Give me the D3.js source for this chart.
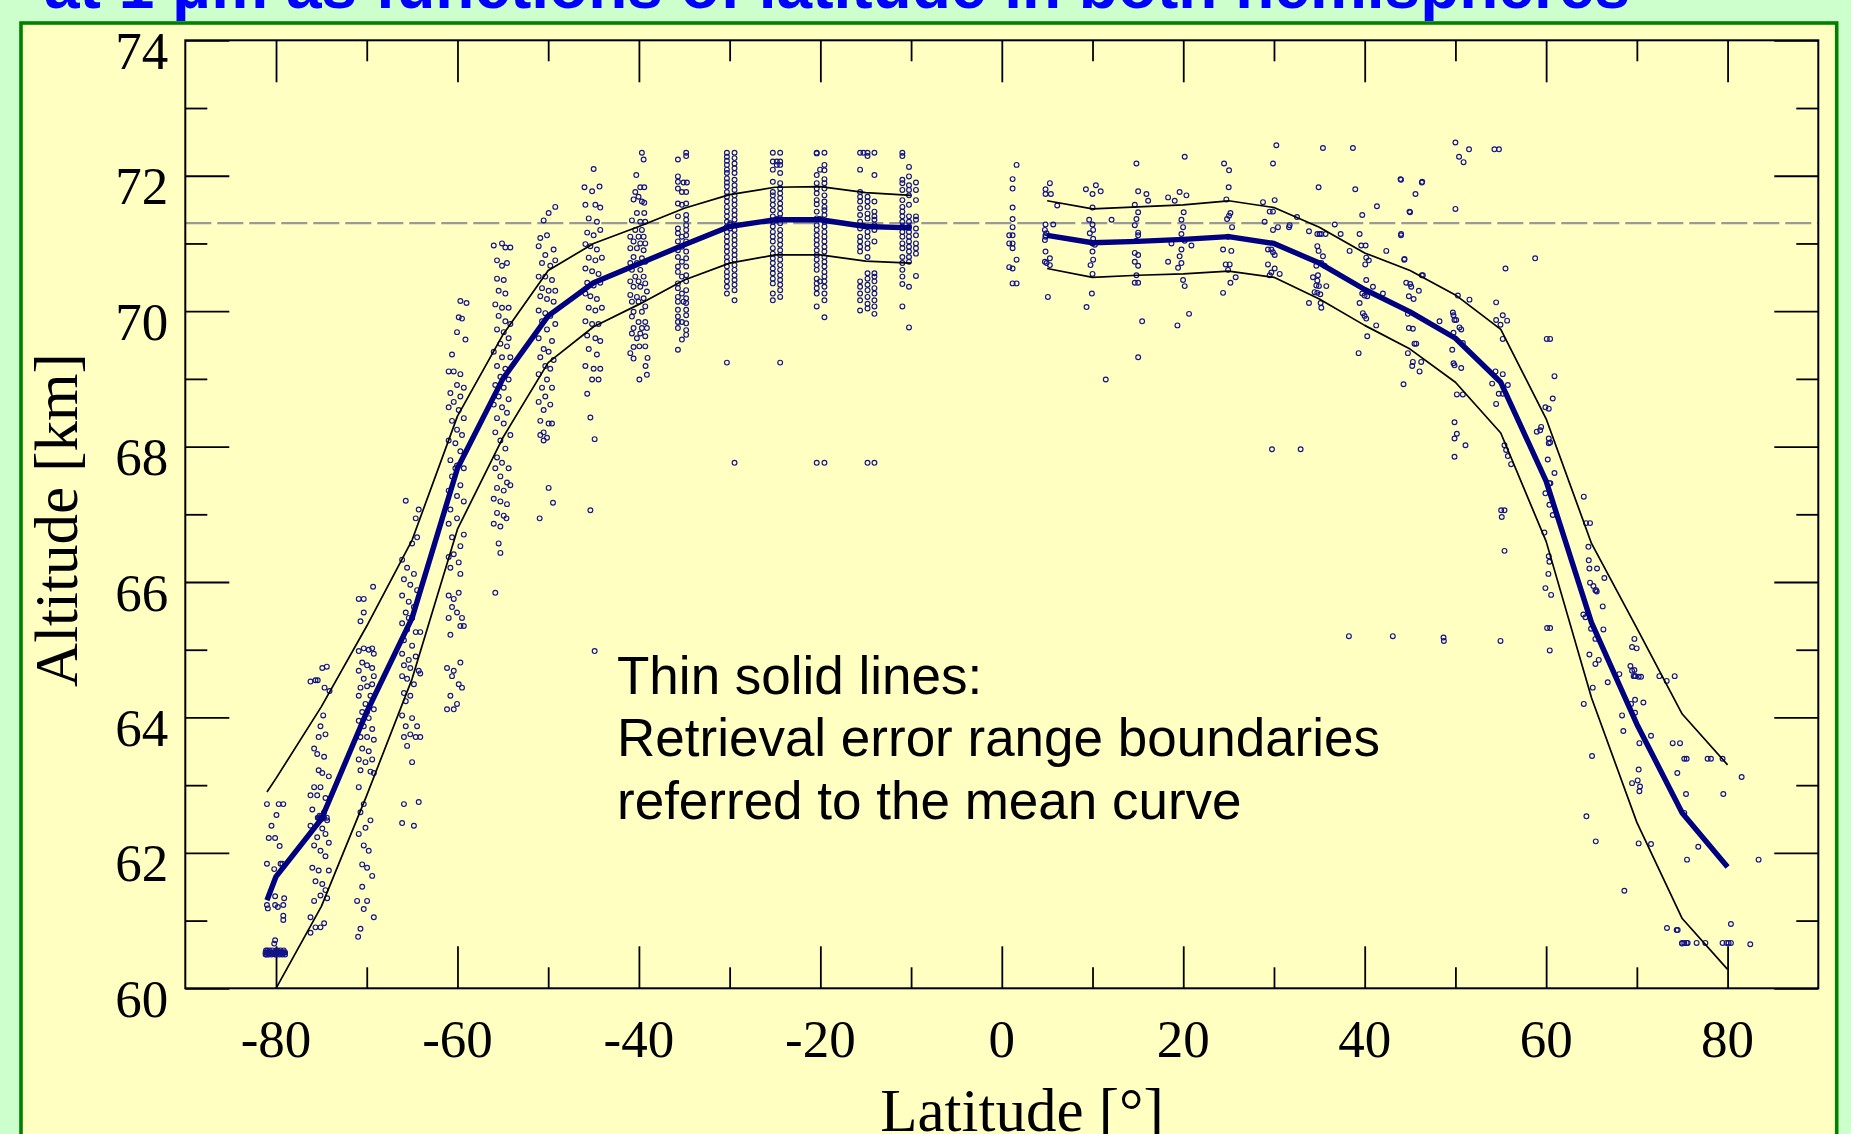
<!DOCTYPE html>
<html><head><meta charset="utf-8">
<script src="https://cdn.jsdelivr.net/npm/d3@7"></script>
<style>html,body{margin:0;padding:0;background:#CCFFCC;overflow:hidden}</style>
</head><body><svg id="chart" width="1851" height="1134"></svg>
<script>
// ---------- data ----------
const titleText = "at 1 \u03bcm as functions of latitude in both hemispheres";
const xTitle = "Latitude [\u00b0]";
const yTitle = "Altitude [km]";
const noteLines = ["Thin solid lines:", "Retrieval error range boundaries", "referred to the mean curve"];

const latTicks = [-80, -60, -40, -20, 0, 20, 40, 60, 80];
const latMinorTicks = [-70, -50, -30, -10, 10, 30, 50, 70];
const altTicks = [60, 62, 64, 66, 68, 70, 72, 74];
const altMinorTicks = [61, 63, 65, 67, 69, 71, 73];
const referenceAlt = 71.3;

const southLat   = [-81, -80, -75, -70, -65, -60, -55, -50, -45, -40, -35, -30, -25, -20, -15, -10];
const southMean  = [61.3, 61.65, 62.5, 64.08, 65.47, 67.68, 69.0, 69.93, 70.42, 70.7, 70.98, 71.25, 71.35, 71.35, 71.25, 71.23];
const southUpper = [62.9, 63.1, 64.16, 65.35, 66.62, 68.45, 69.65, 70.6, 71.0, 71.25, 71.52, 71.72, 71.83, 71.84, 71.75, 71.71];
const southLower = [59.7, 60.0, 61.21, 62.85, 64.57, 66.78, 68.13, 69.24, 69.77, 70.1, 70.46, 70.71, 70.83, 70.83, 70.74, 70.71];

const northLat   = [5, 10, 15, 20, 25, 30, 35, 40, 45, 50, 55, 60, 65, 70, 75, 80];
const northMean  = [71.12, 71.01, 71.03, 71.06, 71.1, 71.0, 70.71, 70.32, 69.99, 69.6, 68.95, 67.49, 65.4, 63.9, 62.59, 61.79];
const northUpper = [71.63, 71.51, 71.54, 71.57, 71.63, 71.53, 71.24, 70.86, 70.6, 70.24, 69.73, 68.41, 66.57, 65.32, 64.05, 63.3];
const northLower = [70.63, 70.5, 70.53, 70.55, 70.59, 70.5, 70.18, 69.79, 69.44, 68.95, 68.2, 66.6, 64.29, 62.45, 61.03, 60.28];

// observations: [latitude, [altitudes...]]
const southObs = [
 [-81.15,[60.53,60.5]],[-81.1,[60.56]],[-81.0,[62.72,61.84,61.23,60.53,60.5]],[-80.95,[60.56]],[-80.9,[61.18,60.53]],
 [-80.8,[62.22,60.53,60.5]],[-80.7,[60.56]],[-80.6,[60.52]],[-80.5,[62.4,60.53,60.5]],[-80.4,[60.56]],[-80.3,[60.52]],
 [-80.2,[61.76,60.66,60.53]],[-80.1,[62.22,61.36,61.23,60.71,60.53,60.5]],[-80.0,[60.56]],
 [-79.95,[62.56,60.53]],[-79.9,[60.5]],[-79.8,[61.2,60.53,60.56]],[-79.7,[62.72,60.53]],[-79.6,[62.1,60.53,60.5]],
 [-79.5,[61.84,60.53,60.56]],[-79.4,[60.52]],[-79.3,[61.84,60.53,60.5]],[-79.2,[62.72,61.23,61.07,61.01,60.53]],
 [-79.15,[60.56]],[-79.1,[61.33,60.53]],[-79.0,[60.53,60.5]],
 [-76.2,[64.53,62.85,62.4,61.05,60.82]],[-76.0,[62.64,61.78]],[-75.8,[63.54,62.97,62.11,61.29]],
 [-75.65,[64.55,61.58,60.9]],[-75.46,[63.46,62.85,62.23]],[-75.4,[64.55,62.52]],[-75.3,[63.71,63.22,62.52,61.74]],
 [-75.2,[62.55,62.5]],[-75.1,[63.87,62.97,62.52,62.03,61.37,60.9]],[-75.0,[62.5,62.55]],[-74.9,[64.73,63.18,62.36,61.54]],
 [-74.8,[64.03,62.52]],[-74.7,[63.42,62.6,62.52,60.96]],[-74.65,[64.44]],[-74.55,[63.75,62.81,62.28,61.95,61.45]],
 [-74.4,[64.75,62.52]],[-74.36,[62.48,61.33]],[-74.18,[63.13,62.15,61.74]],[-74.1,[64.39]],
 [-71.06,[61.29]],[-70.95,[60.76]],[-70.88,[65.75,64.98,64.69,64.32,63.95,63.38,62.97,62.28]],
 [-70.69,[65.42,64.44,63.71,63.22,62.6,60.88]],[-70.5,[64.81,64.08,63.54,61.83,61.5]],
 [-70.33,[65.75,65.55,65.02,64.57,63.87,62.72,62.11,61.17]],[-70.14,[64.2,63.34,62.37]],
 [-69.96,[64.77,64.46,64.08,63.71,61.78,61.29]],[-69.78,[65.0,63.99,63.5,62.03]],[-69.59,[64.32,63.2,62.48]],
 [-69.4,[65.02,64.73,64.49,63.83,63.38,61.66]],[-69.3,[65.93]],[-69.22,[64.94,64.61,64.12,63.67,63.18,61.05]],
 [-66.1,[66.33,65.8,65.39,64.94,64.61,64.03,62.44]],[-65.9,[66.04,65.14,64.77,64.36,63.71,62.72]],
 [-65.7,[67.2,65.55,64.24,63.87]],[-65.55,[66.21,65.3,64.57,63.58]],[-65.37,[65.71,64.85,65.47]],
 [-65.2,[65.96,64.73,64.32,63.75]],[-65.0,[66.57,65.47,65.06,63.99,63.34]],[-64.8,[66.12,65.63,64.49,62.4]],
 [-64.6,[66.94,65.26,64.9,63.71]],[-64.45,[66.66,65.88,63.87]],[-64.27,[67.07,64.69,62.75]],[-64.1,[65.26,64.65,63.71]],
 [-61.15,[64.73,64.12]],[-60.97,[69.11,68.58,68.09,67.35,66.86,66.37,65.8,65.47]],
 [-60.78,[68.79,67.8,67.07,66.21,65.22,64.32]],[-60.6,[69.36,68.38,67.56,66.66,65.63,64.61]],
 [-60.41,[69.11,68.66,66.41,65.75,64.69,64.12]],[-60.23,[68.05,67.68]],
 [-60.05,[69.69,68.91,68.25,67.72,67.27,66.94,65.55,64.2]],[-59.86,[69.91,68.54,66.29,65.84,64.49]],
 [-59.68,[70.15,69.07,68.74,67.93,67.43,66.53,66.12,65.35,64.81]],[-59.5,[69.89,68.17,65.47,64.44]],
 [-59.3,[68.87,68.42,67.68,67.19,66.7,65.35]],[-59.12,[69.58]],[-59.0,[70.12]],
 [-56.0,[70.97,69.4,68.62,67.23,66.86]],[-55.83,[70.1,68.91,68.21,67.68,65.84]],
 [-55.64,[70.75,70.48,69.73,69.19,68.42,67.84,67.39,67.02]],[-55.46,[70.3,69.93,68.74,66.57]],
 [-55.27,[69.52,69.03,68.09,67.56,67.19,66.82,66.43]],[-55.09,[71.0,70.67,70.05,69.32,68.58,67.76]],
 [-54.9,[70.46,69.69,68.87,68.34,67.35,66.98]],[-54.72,[70.94,70.26,69.85,69.15,67.97]],[-54.6,[66.94]],
 [-54.54,[70.71,69.48,68.5,67.47,67.15]],[-54.36,[70.05,69.6,68.99,68.7,67.68]],[-54.17,[70.94,69.81,69.32,68.17,67.43]],
 [-51.05,[70.96,70.51,70.01,69.6,69.07,68.66]],[-50.94,[66.94]],[-50.87,[71.08,70.22,69.32,68.38,68.17]],
 [-50.68,[70.71,70.34,69.85,68.87]],[-50.5,[71.34,69.44,68.54,68.21,68.09]],[-50.32,[70.83,70.51,69.97,69.19,68.74]],
 [-50.13,[71.12,70.18,69.73,68.99,68.13]],[-49.95,[71.45,70.3,69.4,68.34,67.39]],[-49.77,[70.67,69.93,69.15,68.62]],
 [-49.58,[70.46,69.56,68.87,68.34]],[-49.47,[67.17]],[-49.4,[70.91,70.14,69.28]],[-49.22,[71.54,70.75,70.3,69.81]],
 [-46.0,[71.83]],[-45.9,[71.57,70.99,70.63,70.26,69.85,69.19]],[-45.7,[71.16,70.42,69.64,68.78]],
 [-45.53,[71.37,70.79,70.05,69.44]],[-45.35,[70.96,70.22,68.43,67.06]],[-45.16,[71.77,70.59,69.81,68.99]],
 [-44.99,[72.1,71.12,70.38,69.15]],[-44.88,[68.11,64.98]],[-44.8,[71.57,70.75,70.01,69.6]],
 [-44.63,[71.32,70.91,70.18,69.36]],[-44.45,[70.55,69.81,68.99]],[-44.34,[71.84]],
 [-44.26,[71.53,71.2,70.42,69.56,69.15]],[-44.08,[70.79,70.05]],
 [-40.95,[71.1,70.93,70.71,70.44,70.24,69.38]],[-40.77,[71.34,70.61,70.14,69.92,69.67]],
 [-40.59,[71.65,71.03,70.8,70.36,69.99,69.75,69.47,69.3]],[-40.4,[71.76,71.2,70.51]],[-40.29,[72.01]],
 [-40.22,[71.45,70.93,70.71,70.21,69.6]],[-40.04,[71.69,71.1,70.44,70.14,69.84]],[-39.95,[69.48,68.99]],
 [-39.85,[71.83,71.32,71.0,70.61,70.36,69.67]],[-39.67,[72.34,71.62,71.2,70.78,69.99,69.75]],
 [-39.48,[72.24,71.1,70.9,70.51,70.19]],[-39.41,[71.83,71.6,71.45]],
 [-39.3,[71.32,71.0,70.73,70.41,70.07,69.84,69.63,69.48]],[-39.27,[69.19]],[-39.12,[70.29,69.75,69.06]],[-39.05,[69.31]],
 [-35.7,[72.24,71.99,71.91,71.81,71.59,71.4,71.22,71.15,71.03,70.9,70.8,70.66,70.58,70.41,70.34,70.21,70.14,70.02,69.92,69.84,69.75,69.43]],
 [-35.26,[71.76,71.57,71.1,70.95,70.73,70.51,70.26,69.84,69.58]],[-35.08,[71.9,70.14]],
 [-34.79,[72.34,72.29,71.76,71.59,71.42,71.35,71.27,71.2,71.12,71.03,70.88,70.78,70.66,70.53,70.44,70.31,70.19,70.12,70.02,69.94,69.82,69.72,69.65]],
 [-34.71,[71.9]],
 [-30.3,[72.34,72.28,72.22,72.16,72.09,72.04,71.96,71.9,71.84,71.76,71.69,71.62,71.54,71.47,71.4,71.32,71.25,71.17,71.1,71.03,70.95,70.88,70.8,70.73,70.66,70.58,70.51,70.44,70.36,70.26,69.24]],
 [-29.94,[71.3,71.28,71.22]],
 [-29.46,[72.34,72.26,72.18,72.11,72.04,71.94,71.86,71.79,71.71,71.64,71.57,71.49,71.42,71.35,71.27,71.2,71.12,71.05,70.98,70.9,70.83,70.76,70.68,70.61,70.53,70.46,70.39,70.31,70.16,67.76]],
 [-25.24,[72.34,72.21,72.09,71.91,71.76,71.71,71.64,71.57,71.49,71.4,71.32,71.25,71.17,71.1,71.03,70.93,70.85,70.78,70.71,70.63,70.56,70.48,70.41,70.26,70.16]],
 [-24.8,[72.21,72.16,71.36,71.34]],
 [-24.43,[72.34,72.21,72.16,72.04,71.89,71.81,71.74,71.67,71.59,71.52,71.44,71.37,71.3,71.2,71.12,71.05,70.98,70.9,70.83,70.76,70.68,70.61,70.53,70.46,70.39,70.31,70.21,69.24]],
 [-20.4,[72.34,72.33,72.01,71.89,71.81,71.74,71.64,71.58,71.47,71.37,71.27,71.2,71.12,71.05,70.98,70.9,70.83,70.76,70.68,70.61,70.48,70.41,70.34,70.26,70.07,67.76]],
 [-20.03,[72.09,71.36,70.44]],
 [-19.55,[72.34,72.16,72.08,71.95,71.89,71.81,71.71,71.62,71.54,71.49,71.42,71.32,71.25,71.17,71.1,71.03,70.95,70.88,70.8,70.73,70.66,70.58,70.51,70.44,70.36,70.26,70.16,69.91,67.76]],
 [-15.62,[72.34,72.09,71.76,71.69,71.62,71.52,71.42,71.32,71.22,71.1,71.03,70.95,70.88,70.44,70.36,70.26,70.16,70.01]],
 [-15.25,[72.34,71.26]],
 [-14.8,[72.34,72.29,71.69,71.62,71.54,71.44,71.37,71.25,71.17,71.1,71.0,70.93,70.8,70.56,70.48,70.39,70.31,70.21,70.11,70.04,67.76]],
 [-14.04,[72.34,72.01,71.62,71.47,71.4,71.35,71.27,71.2,71.03,70.56,70.51,70.44,70.34,70.26,70.16,70.07,69.96,67.76]],
 [-10.96,[72.34,72.29,71.94,71.89,71.79,71.64,71.54,71.47,71.4,71.32,71.25,71.17,71.1,71.0,70.93,70.8,70.71,70.61,70.51,70.4,70.07]],
 [-10.23,[72.13,71.99,71.86,71.79,71.71,71.57,71.4,71.32,71.25,71.23,71.17,71.1,71.03,70.95,70.88,70.8,70.73,70.36,69.76]],
 [-9.46,[71.9,71.79,71.64,71.4,71.35,71.22,71.12,71.0,70.93,70.85,70.52]]
];

const northObs = [
 [0.82,[71.12,71.0,70.65]],[1.19,[71.95,71.81,71.53,71.36,71.24,71.12,71.0,70.93,70.63,70.41]],[1.63,[72.16,70.76,70.41]],
 [4.75,[71.2,71.05,70.73]],[4.82,[71.8,71.73,71.28,71.12,71.1,70.88]],[4.93,[71.15,70.71]],[5.08,[70.21]],
 [5.3,[71.89,70.78,70.68]],[5.41,[71.73]],[5.67,[71.28]],[6.11,[71.56]],
 [9.27,[71.8]],[9.34,[70.06]],[9.63,[71.35]],[9.7,[71.15]],[9.78,[70.68]],[9.93,[70.26]],
 [10.0,[71.73,71.53,71.28,71.0,70.88,70.55]],[10.07,[71.2,71.07,70.76]],[10.26,[70.98]],[10.37,[71.86]],
 [10.9,[71.77]],[11.46,[68.99]],[12.1,[71.35]],
 [14.66,[71.57,71.27,70.86,70.73,70.42]],[14.84,[72.18,71.36,71.04,70.53]],
 [15.03,[71.77,71.46,71.16,71.12,70.83,70.67,70.42,69.32]],[15.47,[69.85]],[15.94,[71.73]],[16.13,[71.63]],
 [18.33,[71.68,70.73]],[18.7,[71.0]],[19.06,[71.63]],[19.36,[69.79]],[19.43,[70.64]],[19.6,[71.76,70.81]],
 [19.8,[71.35,71.14,70.91,70.71]],[19.98,[71.24,70.46]],[20.05,[71.46]],[20.16,[72.28,71.04,70.37]],
 [20.35,[71.71]],[20.64,[69.96]],[20.9,[70.97]],
 [24.39,[70.91,70.27]],[24.5,[72.18]],[24.68,[70.69]],[24.75,[71.65]],[24.83,[71.36]],[24.94,[70.61,71.1]],
 [25.01,[71.83]],[25.05,[72.08,71.41]],[25.12,[70.69]],[25.2,[71.45,70.42]],[25.3,[70.89]],[25.38,[71.24]],[25.78,[70.5]],
 [28.79,[71.61]],[28.97,[71.32]],[29.34,[70.91,70.69]],[29.53,[71.47,70.53]],[29.71,[70.91,70.57]],[29.78,[67.96]],
 [29.89,[72.18,71.47,71.2,70.87]],[30.08,[71.64,70.83,70.63]],[30.26,[72.45]],[30.44,[71.24]],[30.63,[70.55]],
 [31.66,[71.24]],[31.73,[71.27]],[32.54,[71.39]],[32.94,[67.96]],
 [33.86,[71.18,70.12]],[34.3,[70.5]],[34.48,[70.28]],[34.67,[70.67,70.38]],[34.78,[71.14,70.96,70.45,70.27]],
 [34.85,[70.53]],[34.92,[71.83,70.89]],[34.96,[70.37]],[35.03,[71.14]],[35.11,[70.25]],[35.14,[70.12]],
 [35.22,[71.14,70.71,70.05]],[35.4,[72.41,70.81]],[35.58,[70.67]],[35.69,[71.14]],[35.77,[70.37]],
 [36.7,[71.28]],[37.35,[71.14]],[38.34,[70.89]],
 [38.26,[65.2]],[38.7,[72.41]],[38.96,[71.8]],[39.33,[69.38]],[39.44,[71.14,70.12]],[39.62,[70.97]],
 [39.73,[71.42,70.26]],[39.8,[69.97]],[39.99,[70.23,69.93]],[40.06,[70.69]],[40.1,[70.97]],
 [40.17,[70.79,70.46,69.89]],[40.28,[70.22,69.63]],[40.46,[70.75]],[40.91,[70.36]],[41.27,[69.79]],
 [41.35,[71.55]],[42.01,[70.26]],[42.38,[70.89]],
 [43.1,[65.2]],[43.95,[71.95]],[44.0,[71.94,71.12]],[44.02,[71.14]],[44.28,[68.92]],[44.36,[70.76]],[44.39,[70.77]],
 [44.58,[70.42]],[44.76,[69.96,69.38]],[44.87,[70.22,69.75]],[44.94,[71.47]],[45.0,[71.46]],[45.02,[70.4]],
 [45.13,[70.36]],[45.24,[69.19]],[45.31,[69.74,69.25]],[45.39,[70.18]],[45.49,[69.52]],[45.6,[71.73]],
 [45.68,[69.52]],[45.97,[70.3]],[46.05,[69.11]],[46.23,[69.25]],[46.3,[71.9,70.53]],[46.34,[71.91]],[46.41,[70.53]],
 [48.25,[69.85]],[48.69,[65.18]],[48.73,[65.13]],
 [49.65,[69.43]],[49.72,[69.98]],[49.79,[69.94,69.68,69.23]],[49.9,[69.87,69.2,68.36,68.12,67.85]],
 [50.0,[72.49,71.51]],[50.09,[69.87]],[50.16,[68.77,68.19]],[50.27,[70.23]],[50.4,[72.28]],[50.45,[69.76]],
 [50.64,[69.73,69.16]],[50.82,[69.53,68.77]],[50.9,[72.2]],[51.11,[68.02]],[51.5,[72.39]],[51.55,[70.17]],
 [54.05,[68.93]],[54.3,[72.39]],[54.42,[69.11]],[54.49,[70.13,69.87,68.63]],[54.78,[68.78]],[54.8,[72.39]],
 [54.97,[69.8,65.13]],[55.04,[67.06]],[55.11,[66.96]],[55.22,[69.94,69.59,69.07,68.78]],
 [55.41,[68.02,67.06,66.46]],[55.52,[70.63]],[55.59,[67.95]],[55.7,[69.86]],[55.78,[68.91,67.86]],[56.14,[67.74]],
 [58.79,[70.78]],[58.97,[68.22]],[59.34,[68.24]],[59.45,[68.29]],[59.81,[66.73]],[59.92,[68.58,67.31,65.91]],
 [60.07,[69.59]],[60.11,[65.32]],[60.18,[67.81]],[60.25,[66.12]],[60.29,[68.56,68.12,68.05,66.38]],
 [60.36,[67.46,67.14,66.3]],[60.4,[64.99]],[60.44,[69.59,68.06,65.32]],[60.47,[67.46]],[60.55,[65.81]],
 [60.73,[68.71,66.99]],[60.92,[69.04,67.61]],
 [64.1,[65.52]],[64.15,[67.26,64.2]],[64.33,[65.48]],[64.4,[66.87]],[64.44,[62.54]],[64.66,[66.52]],
 [64.7,[66.32]],[64.77,[66.2,64.93]],[64.84,[66.87,65.99]],[64.95,[65.31]],[65.06,[63.43]],[65.14,[64.44]],
 [65.21,[65.94]],[65.43,[65.88,65.16,64.79]],[65.47,[62.17]],[65.5,[65.88]],[65.58,[65.86]],[65.61,[66.2]],
 [65.8,[64.85]],[66.24,[65.64]],[66.31,[65.3]],[66.42,[66.06]],[66.79,[64.52]],
 [68.07,[64.64]],[68.37,[64.03]],[68.51,[63.8]],[68.62,[61.44]],[69.29,[64.76]],[69.36,[64.2]],
 [69.47,[65.04,64.69,63.03]],[69.65,[64.61]],[69.73,[65.16,64.7]],[69.8,[64.61,64.26,64.07]],[69.84,[64.61]],
 [69.98,[65.02]],[70.09,[63.07]],[70.2,[64.6,63.23,62.14]],[70.28,[63.62,62.91]],[70.35,[62.98]],
 [70.46,[64.6]],[70.72,[64.22]],[71.56,[63.73,62.13]],
 [72.48,[64.61]],[73.29,[64.54]],[73.32,[60.89]],[73.95,[63.62]],[74.17,[64.61]],[74.39,[60.86]],
 [74.46,[63.18]],[74.5,[60.86]],[74.76,[63.62]],[74.98,[60.67,60.66]],[75.23,[63.39,62.59,60.67]],
 [75.42,[62.87]],[75.49,[63.39,60.67]],[75.53,[61.9]],[75.6,[60.67]],[76.59,[60.67]],[76.77,[62.09]],[77.55,[60.67]],
 [77.8,[63.39]],[78.17,[63.39]],[79.45,[63.39,60.67]],[79.53,[62.87]],[79.89,[60.67]],[80.11,[60.67]],
 [80.37,[60.95,60.67]],[81.55,[63.12]],[82.5,[60.65]],[83.42,[61.9]]
];

// ---------- drawing ----------
const svg = d3.select('#chart');
const serif = "'Liberation Serif','Times New Roman',Times,serif";
const sans = "'Liberation Sans',Arial,Helvetica,sans-serif";

svg.append('rect').attr('width', 1851).attr('height', 1134).attr('fill', '#CCFFCC');

svg.append('text').attr('x', 44).attr('y', 8)
  .attr('font-family', sans).attr('font-weight', 'bold').attr('font-size', 64)
  .attr('fill', '#0000FF').text(titleText);

svg.append('rect').attr('x', 21).attr('y', 23).attr('width', 1815.7).attr('height', 1200)
  .attr('fill', '#FFFFC2').attr('stroke', '#008000').attr('stroke-width', 3.6);

const x = d3.scaleLinear().domain([-90, 90]).range([185.3, 1818.3]);
const y = d3.scaleLinear().domain([60, 74]).range([988.3, 40.3]);

svg.append('defs').append('clipPath').attr('id', 'plotclip')
  .append('rect').attr('x', x(-90)).attr('y', y(74)).attr('width', x(90) - x(-90)).attr('height', y(60) - y(74));

// reference dashed line
svg.append('line').attr('x1', x(-90)).attr('x2', x(90)).attr('y1', y(referenceAlt)).attr('y2', y(referenceAlt))
  .attr('stroke', '#999999').attr('stroke-width', 2.4).attr('stroke-dasharray', '26,6');

// ticks via d3 axes (all inward)
function ticks(axisFn, scale, vals, len, tr) {
  const g = svg.append('g').attr('transform', tr)
    .call(axisFn(scale).tickValues(vals).tickSize(-len).tickSizeOuter(0).tickFormat(''));
  g.select('.domain').remove();
  g.selectAll('line').attr('stroke', '#000').attr('stroke-width', 1.8);
}
ticks(d3.axisBottom, x, latTicks, 42, `translate(0,${y(60)})`);
ticks(d3.axisBottom, x, latMinorTicks, 21, `translate(0,${y(60)})`);
ticks(d3.axisTop, x, latTicks, 42, `translate(0,${y(74)})`);
ticks(d3.axisTop, x, latMinorTicks, 21, `translate(0,${y(74)})`);
ticks(d3.axisLeft, y, altTicks, 44, `translate(${x(-90)},0)`);
ticks(d3.axisLeft, y, altMinorTicks, 22, `translate(${x(-90)},0)`);
ticks(d3.axisRight, y, altTicks, 44, `translate(${x(90)},0)`);
ticks(d3.axisRight, y, altMinorTicks, 22, `translate(${x(90)},0)`);

// frame
svg.append('rect').attr('x', x(-90)).attr('y', y(74)).attr('width', x(90) - x(-90)).attr('height', y(60) - y(74))
  .attr('fill', 'none').attr('stroke', '#000').attr('stroke-width', 2);

// tick labels
svg.append('g').selectAll('text').data(latTicks).join('text')
  .attr('x', d => x(d)).attr('y', 1057).attr('text-anchor', 'middle')
  .attr('font-family', serif).attr('font-size', 53).attr('fill', '#000').text(d => d);
svg.append('g').selectAll('text').data(altTicks).join('text')
  .attr('x', 168.3).attr('y', d => y(d) + 28.5).attr('text-anchor', 'end')
  .attr('font-family', serif).attr('font-size', 53).attr('fill', '#000').text(d => d);

// axis titles
svg.append('text').attr('x', 1022).attr('y', 1131).attr('text-anchor', 'middle')
  .attr('font-family', serif).attr('font-size', 61).attr('fill', '#000').text(xTitle);
svg.append('text').attr('transform', 'translate(77,520) rotate(-90)').attr('text-anchor', 'middle')
  .attr('font-family', serif).attr('font-size', 61).attr('fill', '#000').text(yTitle);

const plot = svg.append('g').attr('clip-path', 'url(#plotclip)');

// observations
const pts = [];
for (const [lat, alts] of southObs.concat(northObs)) for (const a of alts) pts.push([lat, a]);
plot.append('g').selectAll('circle').data(pts).join('circle')
  .attr('cx', d => x(d[0])).attr('cy', d => y(d[1])).attr('r', 2.4)
  .attr('fill', 'none').attr('stroke', '#14148a').attr('stroke-width', 1.15);

// curves
const line = d3.line().x(d => x(d[0])).y(d => y(d[1]));
function curve(lats, vals, color, width) {
  plot.append('path').datum(d3.zip(lats, vals)).attr('d', line)
    .attr('fill', 'none').attr('stroke', color).attr('stroke-width', width)
    .attr('stroke-linejoin', 'round');
}
curve(southLat, southUpper, '#000', 1.7);
curve(southLat, southLower, '#000', 1.7);
curve(northLat, northUpper, '#000', 1.7);
curve(northLat, northLower, '#000', 1.7);
curve(southLat, southMean, '#000080', 5.4);
curve(northLat, northMean, '#000080', 5.4);

// annotation
svg.append('g').selectAll('text').data(noteLines).join('text')
  .attr('x', 617).attr('y', (d, i) => [694, 756, 819][i])
  .attr('font-family', sans).attr('font-size', 53).attr('fill', '#000').text(d => d);
</script>
</body></html>
